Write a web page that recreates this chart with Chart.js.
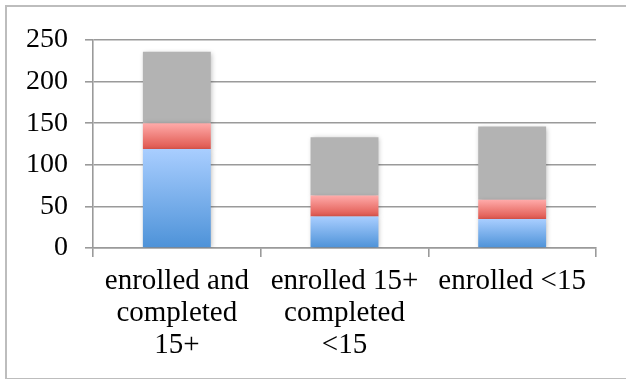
<!DOCTYPE html>
<html>
<head>
<meta charset="utf-8">
<script src="https://cdn.jsdelivr.net/npm/chart.js@4/dist/chart.umd.min.js"></script>
<style>
  html, body { margin: 0; padding: 0; background: #fff; }
  #wrap { position: relative; width: 626px; height: 379px; }
  #frame { position: absolute; left: 5px; top: 5px; width: 619px; height: 371px; border: 2px solid #bdbdbd; border-right: none; box-sizing: content-box; }
</style>
</head>
<body>
<div id="wrap">
  <div id="frame"></div>
  <canvas id="stackChart" width="626" height="379"></canvas>
</div>
<script>
const categories = [
    ['enrolled and', 'completed', '15+'],
    ['enrolled 15+', 'completed', '<15'],
    ['enrolled <15']
];
const blueValues = [119, 38, 35];
const redValues = [31, 25, 23];
const greyValues = [86, 70, 88];
const yTicks = [0, 50, 100, 150, 200, 250];

// vertical gradient for one stacked segment, from its bottom value to its top value
function segmentGradient(ctx, bottomVals, topVals, bottomColor, topColor) {
    const chart = ctx.chart;
    const y = chart.scales.y;
    if (!y || ctx.dataIndex === undefined || !chart.chartArea) return bottomColor;
    const i = ctx.dataIndex;
    const lo = bottomVals ? bottomVals[i] : 0;
    const hi = lo + topVals[i];
    const g = chart.ctx.createLinearGradient(0, y.getPixelForValue(lo), 0, y.getPixelForValue(hi));
    g.addColorStop(0, bottomColor);
    g.addColorStop(1, topColor);
    return g;
}

const barShadow = {
    id: 'barShadow',
    beforeDatasetsDraw(chart) {
        const c = chart.ctx;
        c.save();
        c.shadowColor = 'rgba(0,0,0,0.28)';
        c.shadowBlur = 5;
        c.shadowOffsetX = 1;
        c.shadowOffsetY = 1;
    },
    afterDatasetsDraw(chart) {
        chart.ctx.restore();
    }
};

const gridColor = '#9a9a9a';
const serif = '"Liberation Serif", "DejaVu Serif", serif';

new Chart(document.getElementById('stackChart'), {
    type: 'bar',
    data: {
        labels: categories,
        datasets: [{
            label: 'blue',
            data: blueValues,
            backgroundColor: ctx => segmentGradient(ctx, null, blueValues, '#4d92d8', '#a9ceff')
        }, {
            label: 'red',
            data: redValues,
            backgroundColor: ctx => segmentGradient(ctx, blueValues, redValues, '#df564d', '#ffabaa')
        }, {
            label: 'grey',
            data: greyValues,
            backgroundColor: '#b3b3b3'
        }]
    },
    options: {
        responsive: false,
        animation: false,
        barPercentage: 0.405,
        categoryPercentage: 1,
        layout: { padding: { top: 40, right: 30, left: 0, bottom: 0 } },
        plugins: { legend: { display: false }, tooltip: { enabled: false } },
        scales: {
            x: {
                stacked: true,
                grid: { drawOnChartArea: false, color: gridColor, lineWidth: 1.6, tickLength: 9 },
                border: { color: gridColor, width: 1.6 },
                ticks: { color: '#000', font: { family: serif, size: 29, lineHeight: 1.093 }, padding: 9, maxRotation: 0, autoSkip: false },
                afterFit: scale => { scale.height = 131; }
            },
            y: {
                stacked: true,
                min: 0,
                max: 250,
                afterBuildTicks: scale => { scale.ticks = yTicks.map(v => ({ value: v })); },
                grid: { color: gridColor, lineWidth: 1.6, tickLength: 8 },
                border: { color: gridColor, width: 1.6 },
                ticks: { color: '#000', font: { family: serif, size: 28 }, padding: 17 },
                afterFit: scale => { scale.width = 93; }
            }
        }
    },
    plugins: [barShadow]
});
</script>
</body>
</html>
